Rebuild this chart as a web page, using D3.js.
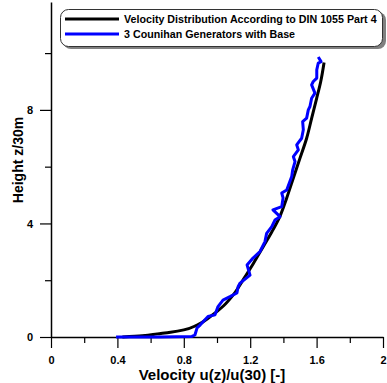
<!DOCTYPE html>
<html>
<head>
<meta charset="utf-8">
<script src="https://cdn.jsdelivr.net/npm/d3@7"></script>
<style>
  body { margin: 0; background: #fff; }
  text { font-family: "Liberation Sans", Arial, sans-serif; font-weight: bold; }
</style>
</head>
<body>
<div id="chart"></div>
<script>
// series names (legend)
const seriesNames = ["Velocity Distribution According to DIN 1055 Part 4", "3 Counihan Generators with Base"];

// DIN 1055 profile: velocity u(z)/u(30) and height z/30m
const dinU = [0.43, 0.55, 0.64, 0.72, 0.80, 0.88, 0.96, 1.04, 1.10, 1.16, 1.22, 1.28, 1.33, 1.375, 1.42, 1.46, 1.50, 1.54, 1.57, 1.60, 1.625, 1.645];
const dinZ = [0, 0.04, 0.11, 0.17, 0.25, 0.42, 0.72, 1.1, 1.5, 2.04, 2.6, 3.2, 3.7, 4.2, 4.9, 5.6, 6.3, 7.0, 7.7, 8.4, 9.0, 9.67];

// measured profile, 3 Counihan generators with base
const measU = [0.392, 0.66, 0.849, 0.867, 0.880, 0.898, 0.946, 0.988, 1.006, 1.036, 1.078, 1.120, 1.127, 1.139, 1.199, 1.181, 1.217, 1.259, 1.289, 1.299, 1.330, 1.349, 1.380, 1.337, 1.390, 1.398, 1.390, 1.420, 1.450, 1.456, 1.470, 1.460, 1.490, 1.480, 1.510, 1.520, 1.516, 1.540, 1.550, 1.560, 1.570, 1.590, 1.570, 1.580, 1.601, 1.601, 1.610, 1.627, 1.610];
const measZ = [0, 0, 0.02, 0.07, 0.32, 0.42, 0.72, 0.78, 1.07, 1.30, 1.42, 1.55, 1.77, 1.90, 2.18, 2.54, 2.78, 3.01, 3.36, 3.65, 3.89, 4.12, 4.24, 4.48, 4.59, 4.90, 5.07, 5.18, 5.65, 5.89, 6.18, 6.35, 6.59, 6.77, 7.00, 7.30, 7.59, 7.71, 8.00, 8.12, 8.41, 8.59, 8.88, 9.00, 9.12, 9.41, 9.65, 9.70, 9.86];

// ticks
const xMajor = [0, 0.4, 0.8, 1.2, 1.6, 2];
const xMinor = [0.2, 0.6, 1.0, 1.4, 1.8];
const yMajor = [0, 4, 8];
const yMinor = [2, 6, 10];

const W = 387, H = 383;
const svg = d3.select("#chart").append("svg")
  .attr("width", W)
  .attr("height", H);

const x = d3.scaleLinear().domain([0, 2]).range([51, 383]);
const y = d3.scaleLinear().domain([0, 11.8]).range([337, 2]);

// x axis
svg.append("g")
  .attr("transform", "translate(0," + y(0) + ")")
  .call(d3.axisBottom(x).tickValues(xMinor).tickSize(6).tickFormat(""))
  .call(g => g.select(".domain").remove());
const gx = svg.append("g")
  .attr("transform", "translate(0," + y(0) + ")")
  .call(d3.axisBottom(x).tickValues(xMajor).tickSize(11).tickSizeOuter(0)
    .tickFormat(d => d === 0 || d === 2 ? d3.format("d")(d) : d3.format(".1f")(d)));
gx.selectAll("text").attr("dy", 0).attr("y", 27).style("font-size", "11px");

// y axis
svg.append("g")
  .attr("transform", "translate(" + x(0) + ",0)")
  .call(d3.axisLeft(y).tickValues(yMinor).tickSize(6).tickFormat(""))
  .call(g => g.select(".domain").remove());
const gy = svg.append("g")
  .attr("transform", "translate(" + x(0) + ",0)")
  .call(d3.axisLeft(y).tickValues(yMajor).tickSize(11).tickSizeOuter(0).tickFormat(d3.format("d")));
gy.selectAll("text").attr("x", -18).attr("dy", "0.35em").style("font-size", "11px");

svg.selectAll(".domain").attr("stroke", "#000").attr("stroke-width", 1.5);
svg.selectAll(".tick line").attr("stroke", "#000").attr("stroke-width", 1.2);

// axis titles
svg.append("text")
  .attr("x", 212).attr("y", 380)
  .attr("text-anchor", "middle")
  .style("font-size", "15px")
  .text("Velocity u(z)/u(30) [-]");
svg.append("text")
  .attr("transform", "translate(23,160) rotate(-90)")
  .attr("text-anchor", "middle")
  .style("font-size", "14px")
  .text("Height z/30m");

// curves
const dinData = d3.zip(dinU, dinZ);
const measData = d3.zip(measU, measZ);

svg.append("path")
  .datum(dinData)
  .attr("d", d3.line().x(d => x(d[0])).y(d => y(d[1])).curve(d3.curveMonotoneY))
  .attr("fill", "none")
  .attr("stroke", "#000")
  .attr("stroke-width", 3);

svg.append("path")
  .datum(measData)
  .attr("d", d3.line().x(d => x(d[0])).y(d => y(d[1])))
  .attr("fill", "none")
  .attr("stroke", "#0000ff")
  .attr("stroke-width", 3)
  .attr("stroke-linejoin", "round");

// legend
const lg = svg.append("g");
lg.append("rect")
  .attr("x", 63).attr("y", 12).attr("width", 323).attr("height", 37)
  .attr("rx", 8).attr("fill", "#808080");
lg.append("rect")
  .attr("x", 60.5).attr("y", 9.5).attr("width", 322).attr("height", 37)
  .attr("rx", 8).attr("fill", "#fff").attr("stroke", "#333").attr("stroke-width", 1);

const colors = ["#000", "#0000ff"];
seriesNames.forEach((name, i) => {
  const ly = 19 + i * 15;
  lg.append("line")
    .attr("x1", 65).attr("x2", 119).attr("y1", ly).attr("y2", ly)
    .attr("stroke", colors[i]).attr("stroke-width", 3);
  lg.append("text")
    .attr("x", 124).attr("y", ly + 4)
    .style("font-size", "10.7px")
    .text(name);
});
</script>
</body>
</html>
